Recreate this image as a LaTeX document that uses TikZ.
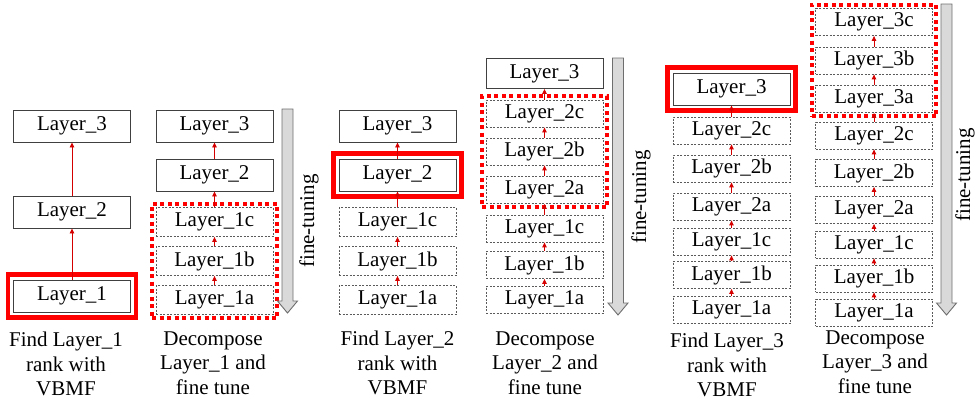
\documentclass[tikz,border=0pt]{standalone}
\usepackage{fontspec}
\setmainfont{Liberation Serif}
\usetikzlibrary{fit,arrows.meta}
\definecolor{boxline}{HTML}{404040}
\definecolor{dashline}{HTML}{5A5A5A}
\definecolor{tunefill}{HTML}{D9D9D9}
\definecolor{tuneline}{HTML}{6E6E6E}
\definecolor{hotred}{HTML}{FF0000}
\definecolor{arrowred}{HTML}{D40000}

\begin{document}
\begin{tikzpicture}[x=1pt,y=-1pt,
  font=\fontsize{21}{24.5}\selectfont,
  solidbox/.style={draw=boxline,line width=0.9pt,minimum width=117pt,minimum height=32pt,inner sep=0pt},
  dashbox/.style={draw=dashline,dash pattern=on 2pt off 1.5pt,line width=0.8pt,minimum width=117pt,minimum height=27pt,inner sep=0pt},
  redframe/.style={draw=hotred,line width=4.5pt,inner sep=5pt},
  dotframe/.style={draw=hotred,line width=4pt,dash pattern=on 4pt off 3.5pt,inner sep=3.5pt},
  upline/.style={draw=arrowred,line width=0.9pt,-{Triangle[length=5pt,width=4.5pt]}},
  caption/.style={align=center}]

\useasboundingbox (0,0) rectangle (976,410);

% Find Layer_1 rank
\begin{scope}
\node[solidbox] (a3) at (72,126) {Layer\_3};
\node[solidbox] (a2) at (72,212) {Layer\_2};
\node[solidbox] (a1) at (72,296) {Layer\_1};
\node[redframe,fit=(a1)] (a1frame) {};
\draw[upline] (a1) -- (a2);
\draw[upline] (a2) -- (a3);
\node[caption] (acap) at (66,364) {Find Layer\_1\\rank with\\VBMF};
\end{scope}

% Decompose Layer_1
\begin{scope}
\node[solidbox] (b3) at (214.5,126) {Layer\_3};
\node[solidbox] (b2) at (214.5,175) {Layer\_2};
\node[dashbox,minimum height=29pt] (b1c) at (214.5,222) {Layer\_1c};
\node[dashbox,minimum height=29pt] (b1b) at (214.5,261) {Layer\_1b};
\node[dashbox,minimum height=29pt] (b1a) at (214.5,300) {Layer\_1a};
\node[dotframe,fit=(b1a)(b1c)] (bdots) {};
\draw[upline] (b1a) -- (b1b);
\draw[upline] (b1b) -- (b1c);
\draw[upline] (b1c) -- (b2);
\draw[upline] (b2) -- (b3);
\node[caption] (bcap) at (213,363) {Decompose\\Layer\_1 and\\fine tune};
\end{scope}

% Find Layer_2 rank
\begin{scope}
\node[solidbox] (c3) at (397.5,126) {Layer\_3};
\node[solidbox] (c2) at (397.5,175) {Layer\_2};
\node[redframe,fit=(c2)] (c2frame) {};
\node[dashbox,minimum height=29pt] (c1c) at (397.5,222) {Layer\_1c};
\node[dashbox,minimum height=29pt] (c1b) at (397.5,261) {Layer\_1b};
\node[dashbox,minimum height=29pt] (c1a) at (397.5,300) {Layer\_1a};
\draw[upline] (c1a) -- (c1b);
\draw[upline] (c1b) -- (c1c);
\draw[upline] (c1c) -- (c2);
\draw[upline] (c2) -- (c3);
\node[caption] (ccap) at (397.5,363) {Find Layer\_2\\rank with\\VBMF};
\end{scope}

% Decompose Layer_2
\begin{scope}
\node[solidbox,minimum height=30pt] (d3) at (544.5,73.5) {Layer\_3};
\node[dashbox] (d2c) at (544.5,113.5) {Layer\_2c};
\node[dashbox] (d2b) at (544.5,151.5) {Layer\_2b};
\node[dashbox] (d2a) at (544.5,190) {Layer\_2a};
\node[dashbox] (d1c) at (544.5,228.5) {Layer\_1c};
\node[dashbox] (d1b) at (544.5,265) {Layer\_1b};
\node[dashbox] (d1a) at (544.5,300) {Layer\_1a};
\node[dotframe,fit=(d2a)(d2c)] (ddots) {};
\draw[upline] (d1a) -- (d1b);
\draw[upline] (d1b) -- (d1c);
\draw[upline] (d1c) -- (d2a);
\draw[upline] (d2a) -- (d2b);
\draw[upline] (d2b) -- (d2c);
\draw[upline] (d2c) -- (d3);
\node[caption] (dcap) at (545,363) {Decompose\\Layer\_2 and\\fine tune};
\end{scope}

% Find Layer_3 rank
\begin{scope}
\node[solidbox] (e3) at (731.5,89) {Layer\_3};
\node[redframe,fit=(e3)] (e3frame) {};
\node[dashbox] (e2c) at (731.5,130.5) {Layer\_2c};
\node[dashbox] (e2b) at (731.5,168.5) {Layer\_2b};
\node[dashbox] (e2a) at (731.5,206.5) {Layer\_2a};
\node[dashbox] (e1c) at (731.5,241.5) {Layer\_1c};
\node[dashbox] (e1b) at (731.5,275) {Layer\_1b};
\node[dashbox] (e1a) at (731.5,310) {Layer\_1a};
\draw[upline] (e1a) -- (e1b);
\draw[upline] (e1b) -- (e1c);
\draw[upline] (e1c) -- (e2a);
\draw[upline] (e2a) -- (e2b);
\draw[upline] (e2b) -- (e2c);
\draw[upline] (e2c) -- (e3);
\node[caption] (ecap) at (727,365) {Find Layer\_3\\rank with\\VBMF};
\end{scope}

% Decompose Layer_3
\begin{scope}
\node[dashbox] (f3c) at (874,22) {Layer\_3c};
\node[dashbox] (f3b) at (874,60.5) {Layer\_3b};
\node[dashbox] (f3a) at (874,99) {Layer\_3a};
\node[dashbox] (f2c) at (874,135.5) {Layer\_2c};
\node[dashbox] (f2b) at (874,173) {Layer\_2b};
\node[dashbox] (f2a) at (874,210) {Layer\_2a};
\node[dashbox] (f1c) at (874,244.5) {Layer\_1c};
\node[dashbox] (f1b) at (874,278.5) {Layer\_1b};
\node[dashbox] (f1a) at (874,312.5) {Layer\_1a};
\node[dotframe,fit=(f3a)(f3c)] (fdots) {};
\draw[upline] (f1a) -- (f1b);
\draw[upline] (f1b) -- (f1c);
\draw[upline] (f1c) -- (f2a);
\draw[upline] (f2a) -- (f2b);
\draw[upline] (f2b) -- (f2c);
\draw[upline] (f2c) -- (f3a);
\draw[upline] (f3a) -- (f3b);
\draw[upline] (f3b) -- (f3c);
\node[caption] (fcap) at (875,362) {Decompose\\Layer\_3 and\\fine tune};
\end{scope}

% fine-tuning arrows
\foreach \cx/\top/\bot in {287.5/109/313, 618/58/315, 946.5/4/315}
  \draw[fill=tunefill,draw=tuneline,line width=0.9pt,line join=miter]
    (\cx-5.5,\top) -- (\cx+5.5,\top) -- (\cx+5.5,\bot-12) -- (\cx+10,\bot-12)
    -- (\cx,\bot) -- (\cx-10,\bot-12) -- (\cx-5.5,\bot-12) -- cycle;
\node[rotate=90] (t2) at (309,221) {fine-tuning};
\node[rotate=90] (t4) at (641,197) {fine-tuning};
\node[rotate=90] (t6) at (965,175) {fine-tuning};

\end{tikzpicture}
\end{document}
